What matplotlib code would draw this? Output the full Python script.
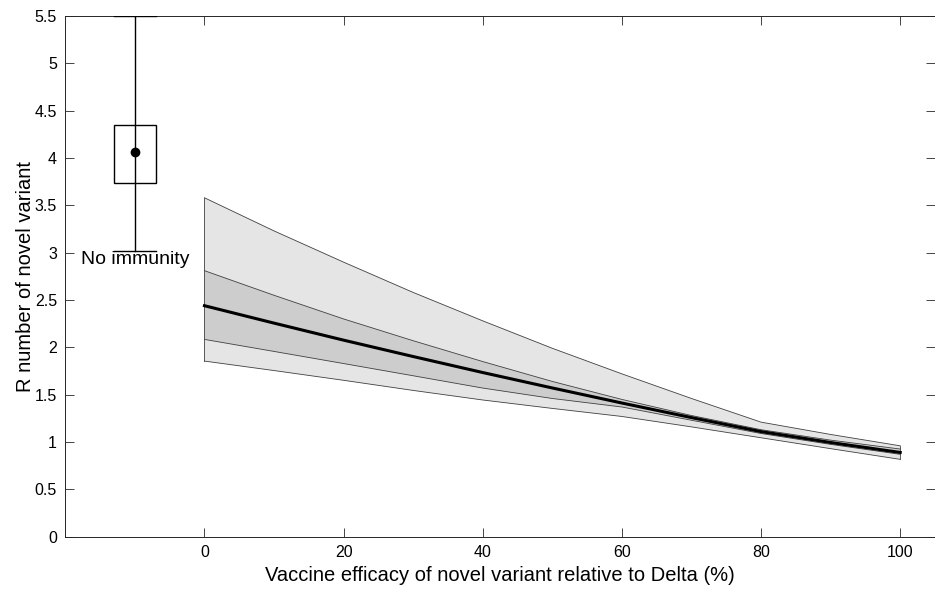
import matplotlib
matplotlib.use("Agg")
import matplotlib.pyplot as plt
import numpy as np

plt.rcParams['font.family'] = ['Liberation Sans', 'DejaVu Sans']

# Vaccine efficacy (%) relative to Delta
efficacy = [0, 10, 20, 30, 40, 50, 60, 70, 80, 90, 100]
outer_upper = [3.58, 3.23, 2.90, 2.58, 2.28, 1.99, 1.72, 1.46, 1.21, 1.08, 0.96]
inner_upper = [2.81, 2.55, 2.30, 2.07, 1.85, 1.64, 1.45, 1.28, 1.13, 1.02, 0.926]
median_r = [2.44, 2.256, 2.076, 1.903, 1.734, 1.571, 1.412, 1.258, 1.11, 0.995, 0.89]
inner_lower = [2.084, 1.957, 1.829, 1.70, 1.57, 1.46, 1.37, 1.23, 1.09, 0.975, 0.87]
outer_lower = [1.855, 1.755, 1.652, 1.545, 1.444, 1.355, 1.27, 1.16, 1.045, 0.93, 0.817]

# No immunity summary
no_imm_x = -10
no_imm_whisker = [3.02, 5.5]
no_imm_box = [3.74, 4.35]
no_imm_median = 4.06
no_imm_label = "No immunity"

xticks = [0, 20, 40, 60, 80, 100]
yticks = [0, 0.5, 1, 1.5, 2, 2.5, 3, 3.5, 4, 4.5, 5, 5.5]
ytick_labels = ['0', '0.5', '1', '1.5', '2', '2.5', '3', '3.5', '4', '4.5', '5', '5.5']

fig = plt.figure(figsize=(9.35, 5.91), dpi=100)
ax = fig.add_axes([65.3 / 935, 1 - 536.7 / 591, (935 - 65.3) / 935, (536.7 - 16) / 591])

edge = '#404040'
ax.fill_between(efficacy, outer_lower, outer_upper, facecolor='#e5e5e5',
                edgecolor='none', zorder=1)
ax.fill_between(efficacy, inner_lower, inner_upper, facecolor='#cdcdcd',
                edgecolor='none', zorder=2)
for series in (outer_upper, outer_lower, inner_upper, inner_lower):
    ax.plot(efficacy, series, color=edge, lw=0.6, zorder=3)
# vertical edges of the bands
ax.plot([efficacy[0], efficacy[0]], [outer_lower[0], outer_upper[0]], color=edge, lw=0.6, zorder=3)
ax.plot([efficacy[-1], efficacy[-1]], [outer_lower[-1], outer_upper[-1]], color=edge, lw=0.6, zorder=3)
ax.plot(efficacy, median_r, color='black', lw=2.2, zorder=4)

# No immunity box
hw = 3
ax.plot([no_imm_x, no_imm_x], no_imm_whisker, color='black', lw=1.0, zorder=5)
for yv in no_imm_whisker:
    ax.plot([no_imm_x - hw, no_imm_x + hw], [yv, yv], color='black', lw=1.0, zorder=5)
ax.add_patch(plt.Rectangle((no_imm_x - hw, no_imm_box[0]), 2 * hw,
                           no_imm_box[1] - no_imm_box[0], fill=False,
                           edgecolor='black', lw=1.0, zorder=5))
ax.plot([no_imm_x], [no_imm_median], 'o', color='black', ms=6, zorder=6)
ax.text(no_imm_x, 2.93, no_imm_label, ha='center', va='center', fontsize=14, zorder=7)

ax.set_xlim(-20, 105)
ax.set_ylim(0, 5.5)
ax.set_xticks(xticks)
ax.set_yticks(yticks)
ax.set_yticklabels(ytick_labels)
ax.tick_params(direction='in', length=6.5, width=0.6, color='#262626',
               labelsize=11.5, top=True, right=True, pad=6)
for sp in ax.spines.values():
    sp.set_color('#262626')
    sp.set_linewidth(0.7)

ax.set_xlabel('Vaccine efficacy of novel variant relative to Delta (%)', fontsize=14.5, labelpad=4)
ax.set_ylabel('R number of novel variant', fontsize=14.5)
ax.yaxis.set_label_coords(-0.035, 0.5)

fig.savefig('out.png', dpi=100)
